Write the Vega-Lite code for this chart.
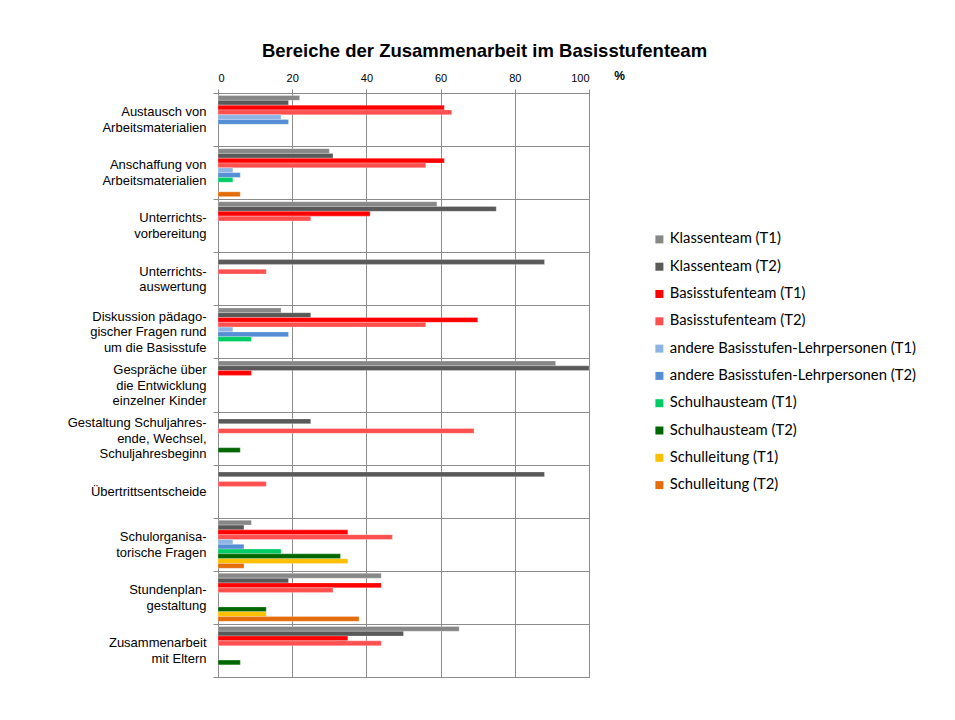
{
  "$schema": "https://vega.github.io/schema/vega-lite/v6.json",
  "width": 371,
  "height": 584,
  "autosize": {"type": "none"},
  "padding": {"left": 218, "top": 93, "right": 366, "bottom": 43},
  "background": "white",
  "title": {
    "text": "Bereiche der Zusammenarbeit im Basisstufenteam",
    "font": "Liberation Sans",
    "fontSize": 18.5,
    "fontWeight": "bold",
    "color": "#000000",
    "anchor": "middle",
    "frame": "group",
    "dx": 81,
    "offset": 9
  },
  "data": {
    "values": [
      {"Bereich": "Austausch von\nArbeitsmaterialien", "Gruppe": "Klassenteam (T1)", "Prozent": 22},
      {"Bereich": "Austausch von\nArbeitsmaterialien", "Gruppe": "Klassenteam (T2)", "Prozent": 19},
      {"Bereich": "Austausch von\nArbeitsmaterialien", "Gruppe": "Basisstufenteam (T1)", "Prozent": 61},
      {"Bereich": "Austausch von\nArbeitsmaterialien", "Gruppe": "Basisstufenteam (T2)", "Prozent": 63},
      {"Bereich": "Austausch von\nArbeitsmaterialien", "Gruppe": "andere Basisstufen-Lehrpersonen (T1)", "Prozent": 17},
      {"Bereich": "Austausch von\nArbeitsmaterialien", "Gruppe": "andere Basisstufen-Lehrpersonen (T2)", "Prozent": 19},
      {"Bereich": "Anschaffung von\nArbeitsmaterialien", "Gruppe": "Klassenteam (T1)", "Prozent": 30},
      {"Bereich": "Anschaffung von\nArbeitsmaterialien", "Gruppe": "Klassenteam (T2)", "Prozent": 31},
      {"Bereich": "Anschaffung von\nArbeitsmaterialien", "Gruppe": "Basisstufenteam (T1)", "Prozent": 61},
      {"Bereich": "Anschaffung von\nArbeitsmaterialien", "Gruppe": "Basisstufenteam (T2)", "Prozent": 56},
      {"Bereich": "Anschaffung von\nArbeitsmaterialien", "Gruppe": "andere Basisstufen-Lehrpersonen (T1)", "Prozent": 4},
      {"Bereich": "Anschaffung von\nArbeitsmaterialien", "Gruppe": "andere Basisstufen-Lehrpersonen (T2)", "Prozent": 6},
      {"Bereich": "Anschaffung von\nArbeitsmaterialien", "Gruppe": "Schulhausteam (T1)", "Prozent": 4},
      {"Bereich": "Anschaffung von\nArbeitsmaterialien", "Gruppe": "Schulleitung (T2)", "Prozent": 6},
      {"Bereich": "Unterrichts-\nvorbereitung", "Gruppe": "Klassenteam (T1)", "Prozent": 59},
      {"Bereich": "Unterrichts-\nvorbereitung", "Gruppe": "Klassenteam (T2)", "Prozent": 75},
      {"Bereich": "Unterrichts-\nvorbereitung", "Gruppe": "Basisstufenteam (T1)", "Prozent": 41},
      {"Bereich": "Unterrichts-\nvorbereitung", "Gruppe": "Basisstufenteam (T2)", "Prozent": 25},
      {"Bereich": "Unterrichts-\nauswertung", "Gruppe": "Klassenteam (T2)", "Prozent": 88},
      {"Bereich": "Unterrichts-\nauswertung", "Gruppe": "Basisstufenteam (T2)", "Prozent": 13},
      {"Bereich": "Diskussion pädago-\ngischer Fragen rund\num die Basisstufe", "Gruppe": "Klassenteam (T1)", "Prozent": 17},
      {"Bereich": "Diskussion pädago-\ngischer Fragen rund\num die Basisstufe", "Gruppe": "Klassenteam (T2)", "Prozent": 25},
      {"Bereich": "Diskussion pädago-\ngischer Fragen rund\num die Basisstufe", "Gruppe": "Basisstufenteam (T1)", "Prozent": 70},
      {"Bereich": "Diskussion pädago-\ngischer Fragen rund\num die Basisstufe", "Gruppe": "Basisstufenteam (T2)", "Prozent": 56},
      {"Bereich": "Diskussion pädago-\ngischer Fragen rund\num die Basisstufe", "Gruppe": "andere Basisstufen-Lehrpersonen (T1)", "Prozent": 4},
      {"Bereich": "Diskussion pädago-\ngischer Fragen rund\num die Basisstufe", "Gruppe": "andere Basisstufen-Lehrpersonen (T2)", "Prozent": 19},
      {"Bereich": "Diskussion pädago-\ngischer Fragen rund\num die Basisstufe", "Gruppe": "Schulhausteam (T1)", "Prozent": 9},
      {"Bereich": "Gespräche über\ndie Entwicklung\neinzelner Kinder", "Gruppe": "Klassenteam (T1)", "Prozent": 91},
      {"Bereich": "Gespräche über\ndie Entwicklung\neinzelner Kinder", "Gruppe": "Klassenteam (T2)", "Prozent": 100},
      {"Bereich": "Gespräche über\ndie Entwicklung\neinzelner Kinder", "Gruppe": "Basisstufenteam (T1)", "Prozent": 9},
      {"Bereich": "Gestaltung Schuljahres-\nende, Wechsel,\nSchuljahresbeginn", "Gruppe": "Klassenteam (T2)", "Prozent": 25},
      {"Bereich": "Gestaltung Schuljahres-\nende, Wechsel,\nSchuljahresbeginn", "Gruppe": "Basisstufenteam (T2)", "Prozent": 69},
      {"Bereich": "Gestaltung Schuljahres-\nende, Wechsel,\nSchuljahresbeginn", "Gruppe": "Schulhausteam (T2)", "Prozent": 6},
      {"Bereich": "Übertrittsentscheide", "Gruppe": "Klassenteam (T2)", "Prozent": 88},
      {"Bereich": "Übertrittsentscheide", "Gruppe": "Basisstufenteam (T2)", "Prozent": 13},
      {"Bereich": "Schulorganisa-\ntorische Fragen", "Gruppe": "Klassenteam (T1)", "Prozent": 9},
      {"Bereich": "Schulorganisa-\ntorische Fragen", "Gruppe": "Klassenteam (T2)", "Prozent": 7},
      {"Bereich": "Schulorganisa-\ntorische Fragen", "Gruppe": "Basisstufenteam (T1)", "Prozent": 35},
      {"Bereich": "Schulorganisa-\ntorische Fragen", "Gruppe": "Basisstufenteam (T2)", "Prozent": 47},
      {"Bereich": "Schulorganisa-\ntorische Fragen", "Gruppe": "andere Basisstufen-Lehrpersonen (T1)", "Prozent": 4},
      {"Bereich": "Schulorganisa-\ntorische Fragen", "Gruppe": "andere Basisstufen-Lehrpersonen (T2)", "Prozent": 7},
      {"Bereich": "Schulorganisa-\ntorische Fragen", "Gruppe": "Schulhausteam (T1)", "Prozent": 17},
      {"Bereich": "Schulorganisa-\ntorische Fragen", "Gruppe": "Schulhausteam (T2)", "Prozent": 33},
      {"Bereich": "Schulorganisa-\ntorische Fragen", "Gruppe": "Schulleitung (T1)", "Prozent": 35},
      {"Bereich": "Schulorganisa-\ntorische Fragen", "Gruppe": "Schulleitung (T2)", "Prozent": 7},
      {"Bereich": "Stundenplan-\ngestaltung", "Gruppe": "Klassenteam (T1)", "Prozent": 44},
      {"Bereich": "Stundenplan-\ngestaltung", "Gruppe": "Klassenteam (T2)", "Prozent": 19},
      {"Bereich": "Stundenplan-\ngestaltung", "Gruppe": "Basisstufenteam (T1)", "Prozent": 44},
      {"Bereich": "Stundenplan-\ngestaltung", "Gruppe": "Basisstufenteam (T2)", "Prozent": 31},
      {"Bereich": "Stundenplan-\ngestaltung", "Gruppe": "Schulhausteam (T2)", "Prozent": 13},
      {"Bereich": "Stundenplan-\ngestaltung", "Gruppe": "Schulleitung (T1)", "Prozent": 13},
      {"Bereich": "Stundenplan-\ngestaltung", "Gruppe": "Schulleitung (T2)", "Prozent": 38},
      {"Bereich": "Zusammenarbeit\nmit Eltern", "Gruppe": "Klassenteam (T1)", "Prozent": 65},
      {"Bereich": "Zusammenarbeit\nmit Eltern", "Gruppe": "Klassenteam (T2)", "Prozent": 50},
      {"Bereich": "Zusammenarbeit\nmit Eltern", "Gruppe": "Basisstufenteam (T1)", "Prozent": 35},
      {"Bereich": "Zusammenarbeit\nmit Eltern", "Gruppe": "Basisstufenteam (T2)", "Prozent": 44},
      {"Bereich": "Zusammenarbeit\nmit Eltern", "Gruppe": "Schulhausteam (T2)", "Prozent": 6}
    ]
  },
  "mark": {"type": "bar", "stroke": "#ffffff", "strokeOpacity": 0.5, "strokeWidth": 0.5},
  "encoding": {
    "y": {
      "field": "Bereich",
      "type": "nominal",
      "sort": null,
      "scale": {"paddingInner": 0, "paddingOuter": 0},
      "axis": {
        "title": null,
        "labelExpr": "split(datum.label, '\\n')",
        "labelFont": "Liberation Sans",
        "labelFontSize": 13,
        "labelColor": "#000000",
        "labelLineHeight": 15.5,
        "labelAlign": "right",
        "labelBaseline": "middle",
        "labelOffset": {
          "condition": [
            {"test": "length(split(datum.value, '\\n')) == 3", "value": -15.5},
            {"test": "length(split(datum.value, '\\n')) == 2", "value": -7.75}
          ],
          "value": 0
        },
        "labelPadding": 7,
        "labelLimit": 300,
        "tickBand": "extent",
        "tickSize": 5,
        "tickColor": "#8c8c8c",
        "domainColor": "#8c8c8c",
        "grid": true,
        "gridColor": "#8c8c8c",
        "gridWidth": 1
      }
    },
    "yOffset": {
      "field": "Gruppe",
      "type": "nominal",
      "scale": {
        "domain": ["Klassenteam (T1)", "Klassenteam (T2)", "Basisstufenteam (T1)", "Basisstufenteam (T2)", "andere Basisstufen-Lehrpersonen (T1)", "andere Basisstufen-Lehrpersonen (T2)", "Schulhausteam (T1)", "Schulhausteam (T2)", "Schulleitung (T1)", "Schulleitung (T2)"],
        "paddingInner": 0,
        "paddingOuter": 0.53
      }
    },
    "x": {
      "field": "Prozent",
      "type": "quantitative",
      "scale": {"domain": [0, 100], "nice": false},
      "axis": {
        "orient": "top",
        "values": [0, 20, 40, 60, 80, 100],
        "title": "%",
        "titleX": 401,
        "titleY": -18,
        "titleAlign": "center",
        "titleBaseline": "middle",
        "titleFont": "Liberation Sans",
        "titleFontSize": 12,
        "titleFontWeight": "bold",
        "titleColor": "#000000",
        "labelFont": "Liberation Sans",
        "labelFontSize": 11,
        "labelColor": "#000000",
        "labelPadding": 6,
        "tickSize": 4,
        "tickColor": "#8c8c8c",
        "domain": false,
        "grid": true,
        "gridColor": "#8c8c8c",
        "gridWidth": 1
      }
    },
    "color": {
      "field": "Gruppe",
      "type": "nominal",
      "scale": {
        "domain": ["Klassenteam (T1)", "Klassenteam (T2)", "Basisstufenteam (T1)", "Basisstufenteam (T2)", "andere Basisstufen-Lehrpersonen (T1)", "andere Basisstufen-Lehrpersonen (T2)", "Schulhausteam (T1)", "Schulhausteam (T2)", "Schulleitung (T1)", "Schulleitung (T2)"],
        "range": ["#878787", "#595959", "#ff0000", "#ff5050", "#8eb4e3", "#558ed5", "#00cc66", "#006600", "#ffc000", "#e46c0a"]
      },
      "legend": {
        "title": null,
        "orient": "none",
        "legendX": 434,
        "legendY": 139,
        "symbolType": "square",
        "symbolSize": 64,
        "symbolStrokeWidth": 0,
        "labelFont": "Lato",
        "labelFontSize": 14.8,
        "labelColor": "#000000",
        "labelOffset": 3,
        "labelLimit": 400,
        "rowPadding": 11.3
      }
    }
  },
  "config": {
    "view": {"stroke": "#8c8c8c", "strokeWidth": 1}
  }
}
